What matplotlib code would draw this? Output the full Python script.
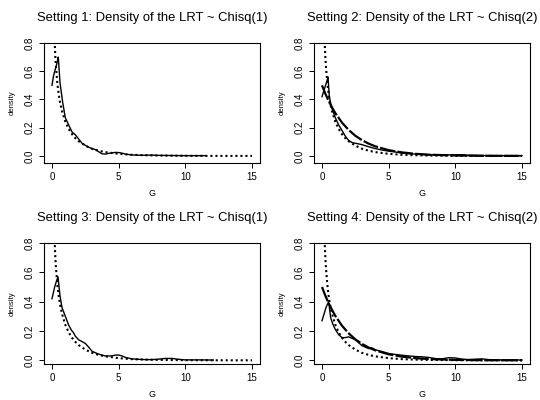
import matplotlib
matplotlib.use("Agg")
import matplotlib.pyplot as plt

plt.rcParams['font.family'] = ['Liberation Sans', 'DejaVu Sans']

titles = ["Setting 1: Density of the LRT ~ Chisq(1)",
          "Setting 2: Density of the LRT ~ Chisq(2)",
          "Setting 3: Density of the LRT ~ Chisq(1)",
          "Setting 4: Density of the LRT ~ Chisq(2)"]

# reference chi-square(1) density (dotted)
chi1_x = [0.15, 0.2, 0.25, 0.3, 0.4, 0.5, 0.6, 0.75, 1.0, 1.25, 1.5, 1.75, 2.0, 2.5,
          3.0, 3.5, 4.0, 5.0, 6.0, 7.0, 8.0, 9.0, 10.0, 12.0, 15.0]
chi1_y = [0.956, 0.807, 0.704, 0.627, 0.516, 0.439, 0.381, 0.317, 0.242, 0.191, 0.154,
          0.126, 0.104, 0.073, 0.051, 0.037, 0.027, 0.015, 0.008, 0.005, 0.003, 0.002,
          0.001, 0.0003, 0.0001]

# reference chi-square(2) density (dashed)
chi2_x = [0.0, 0.25, 0.5, 0.75, 1.0, 1.5, 2.0, 2.5, 3.0, 3.5, 4.0, 5.0, 6.0, 7.0, 8.0,
          10.0, 12.0, 15.0]
chi2_y = [0.500, 0.441, 0.389, 0.344, 0.303, 0.236, 0.184, 0.143, 0.112, 0.087, 0.068,
          0.041, 0.025, 0.015, 0.009, 0.003, 0.001, 0.0003]

# empirical densities (solid)
emp1_x = [0, 0.1, 0.2, 0.3, 0.4, 0.47, 0.6, 0.8, 1.0, 1.25, 1.5, 1.75, 2.0, 2.25, 2.5,
          2.75, 3.0, 3.25, 3.5, 3.75, 4.0, 4.25, 4.5, 4.75, 5.0, 5.25, 5.5, 6.0, 6.5,
          7.0, 7.5, 8.0, 9.0, 10.0, 11.0, 11.5]
emp1_y = [0.50, 0.56, 0.60, 0.63, 0.67, 0.70, 0.52, 0.38, 0.27, 0.22, 0.17, 0.15, 0.12,
          0.09, 0.075, 0.062, 0.052, 0.045, 0.03, 0.015, 0.013, 0.018, 0.022, 0.025,
          0.024, 0.02, 0.013, 0.007, 0.005, 0.005, 0.006, 0.004, 0.003, 0.002, 0.002,
          0.002]

emp2_x = [0, 0.1, 0.2, 0.3, 0.4, 0.45, 0.55, 0.7, 1.0, 1.25, 1.5, 1.75, 2.0, 2.25, 2.5,
          2.75, 3.0, 3.5, 4.0, 4.5, 5.0, 5.5, 6.0, 7.0, 8.0, 9.0, 10.0, 10.5, 11.0, 12.0,
          13.0, 15.0]
emp2_y = [0.42, 0.45, 0.48, 0.51, 0.54, 0.56, 0.42, 0.35, 0.27, 0.22, 0.18, 0.14, 0.11,
          0.095, 0.09, 0.085, 0.08, 0.065, 0.052, 0.042, 0.034, 0.028, 0.02, 0.013,
          0.009, 0.007, 0.008, 0.009, 0.005, 0.003, 0.002, 0.002]

emp3_x = [0, 0.1, 0.2, 0.3, 0.45, 0.6, 0.75, 1.0, 1.25, 1.46, 1.6, 1.75, 2.0, 2.25, 2.5,
          2.75, 3.0, 3.5, 4.0, 4.5, 4.75, 5.0, 5.25, 5.5, 6.0, 6.5, 7.0, 7.5, 8.0, 8.5,
          9.0, 9.5, 10.0, 11.0, 12.1]
emp3_y = [0.42, 0.46, 0.50, 0.53, 0.57, 0.44, 0.36, 0.30, 0.24, 0.205, 0.19, 0.165, 0.14,
          0.128, 0.115, 0.09, 0.062, 0.042, 0.03, 0.03, 0.036, 0.036, 0.03, 0.02, 0.01,
          0.007, 0.005, 0.005, 0.008, 0.013, 0.013, 0.007, 0.003, 0.003, 0.002]

emp4_x = [0, 0.1, 0.2, 0.3, 0.4, 0.5, 0.65, 0.8, 1.0, 1.25, 1.5, 1.75, 2.0, 2.25, 2.5,
          3.0, 3.5, 3.75, 4.0, 4.5, 5.0, 5.5, 6.0, 6.5, 7.0, 7.5, 8.0, 8.5, 9.0, 9.5,
          10.0, 10.5, 11.0, 11.5, 12.0, 12.5, 13.0, 15.0]
emp4_y = [0.27, 0.30, 0.33, 0.36, 0.38, 0.40, 0.29, 0.25, 0.21, 0.175, 0.155, 0.155,
          0.16, 0.15, 0.14, 0.10, 0.08, 0.085, 0.072, 0.06, 0.047, 0.04, 0.035, 0.03,
          0.026, 0.024, 0.02, 0.012, 0.01, 0.018, 0.016, 0.008, 0.005, 0.008, 0.01,
          0.005, 0.003, 0.002]

emp_x = [emp1_x, emp2_x, emp3_x, emp4_x]
emp_y = [emp1_y, emp2_y, emp3_y, emp4_y]
use_chi2 = [False, True, False, True]

xticks = [0, 5, 10, 15]
yticks = [0.0, 0.2, 0.4, 0.6, 0.8]
ytick_labels = ["0.0", "0.2", "0.4", "0.6", "0.8"]

W, H = 540, 400
fig = plt.figure(figsize=(W / 100, H / 100), dpi=100)

# axes boxes in pixels: left, top, right, bottom
boxes = [(44, 43, 260, 163), (314, 43, 530, 163),
         (44, 243, 260, 364), (314, 243, 530, 364)]
ybottoms = [-0.05, -0.05, -0.025, -0.025]

for i in range(4):
    l, t, r, b = boxes[i]
    ax = fig.add_axes([l / W, 1 - b / H, (r - l) / W, (b - t) / H])
    ax.plot(chi1_x, chi1_y, color='black', lw=1.5, linestyle=(0, (1, 1.4)))
    if use_chi2[i]:
        ax.plot(chi2_x, chi2_y, color='black', lw=1.6, linestyle=(0, (7, 1)))
    ax.plot(emp_x[i], emp_y[i], color='black', lw=1.0)
    ax.set_xlim(-0.6, 15.6)
    ax.set_ylim(ybottoms[i], 0.8)
    ax.set_xticks(xticks)
    ax.set_xticklabels([str(v) for v in xticks], fontsize=7)
    ax.set_yticks(yticks)
    ax.set_yticklabels(ytick_labels, fontsize=7, rotation=90, va='center')
    ax.tick_params(direction='out', length=3.5, width=0.7, pad=3)
    for s in ax.spines.values():
        s.set_linewidth(0.8)
    ax.set_xlabel("G", fontsize=6.5, labelpad=5)
    ax.set_ylabel("density", fontsize=5.5, labelpad=7)
    ax.set_title(titles[i], fontsize=9.4, pad=16)

fig.savefig("out.png", dpi=100)
